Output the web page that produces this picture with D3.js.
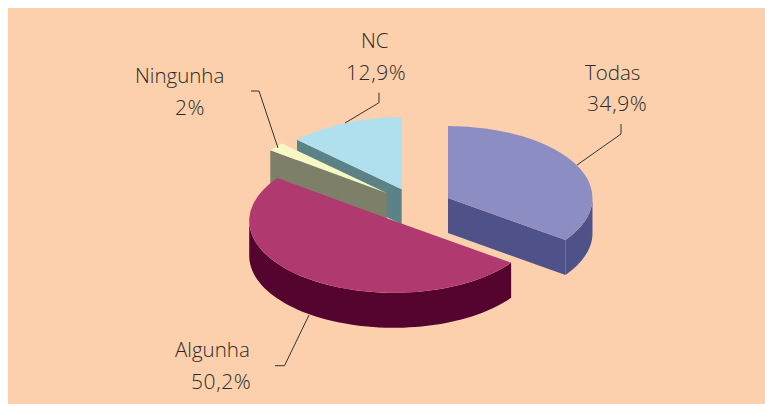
<!DOCTYPE html>
<html><head><meta charset="utf-8">
<script src="https://cdn.jsdelivr.net/npm/d3@7"></script>
<style>html,body{margin:0;padding:0;background:#fff}svg{display:block}
text{font-family:"Open Sans",sans-serif;font-weight:300;fill:#2b2b2b}
.name{font-size:20.5px}.val{font-size:21px;letter-spacing:.6px}</style>
</head><body><div id="c"></div>
<script>
const categories = ["Todas","Algunha","Ningunha","NC"];
const values = [34.9,50.2,2,12.9];
const valueLabels = ["34,9%","50,2%","2%","12,9%"];
const topColors = ["#8b8dc3","#b03a70","#f8f8c4","#b0e0ee"];
const sideColors = ["#4e5289","#54042f","#7d7f68","#5a8287"];

const W=765,H=404,rx=144.5,ry=72,depth=35;
const centers=[[448,198],[393.7,220.8],[386.7,193],[401.7,189.3]];
const labelPos=[[585,80,587,111],[175,357,191,389],[135,83,175,115],[361,48,346,80]];
const leaders=[
 [[621,124],[621,134],[577,165]],
 [[275,365.7],[284.5,365.7],[309,315]],
 [[251,91],[259,91],[278,148]],
 [[379,92.7],[379,102.7],[345,123]]
];
const svg=d3.select("#c").append("svg").attr("width",W).attr("height",H);
svg.append("rect").attr("x",8).attr("y",8).attr("width",W-8).attr("height",H-8).attr("fill","#fcd0ac");

const slices=d3.pie().sort(null).value(d=>d).startAngle(0).endAngle(2*Math.PI)(values);
const arc=d3.arc().innerRadius(0).outerRadius(rx);
const pt=(c,a,dz=0)=>[c[0]+rx*Math.sin(a),c[1]-ry*Math.cos(a)+dz];
const line=d3.line();
function drawSide(i){
  const s=slices[i],c=centers[i],g=svg.append("g");
  const cut=[];
  if(Math.sin(s.endAngle)>1e-6) cut.push(s.endAngle);
  if(Math.sin(s.startAngle)<-1e-6) cut.push(s.startAngle);
  cut.forEach(a=>{
    const p=pt(c,a);
    g.append("path").attr("d",line([c,p,[p[0],p[1]+depth],[c[0],c[1]+depth]])+"Z").attr("fill",sideColors[i]);
  });
  const a0=Math.max(s.startAngle,Math.PI/2),a1=Math.min(s.endAngle,3*Math.PI/2);
  if(a1>a0){
    const as=d3.range(0,61).map(k=>a0+(a1-a0)*k/60);
    const ring=as.map(a=>pt(c,a)).concat(as.slice().reverse().map(a=>pt(c,a,depth)));
    g.append("path").attr("d",line(ring)+"Z").attr("fill",sideColors[i]);
  }
}
function drawTop(i){
  svg.append("path").attr("d",arc(slices[i]))
   .attr("transform",`translate(${centers[i]}) scale(1,${ry/rx})`)
   .attr("fill",topColors[i]);
}
[3,2,1,0].forEach(i=>{drawSide(i);drawTop(i);});

leaders.forEach(l=>svg.append("path").attr("d",line(l)).attr("fill","none").attr("stroke","#333").attr("stroke-width",1));
categories.forEach((c,i)=>{
  const p=labelPos[i];
  svg.append("text").attr("class","name").attr("x",p[0]).attr("y",p[1]).text(c);
  svg.append("text").attr("class","val").attr("x",p[2]).attr("y",p[3]).text(valueLabels[i]);
});
</script></body></html>
